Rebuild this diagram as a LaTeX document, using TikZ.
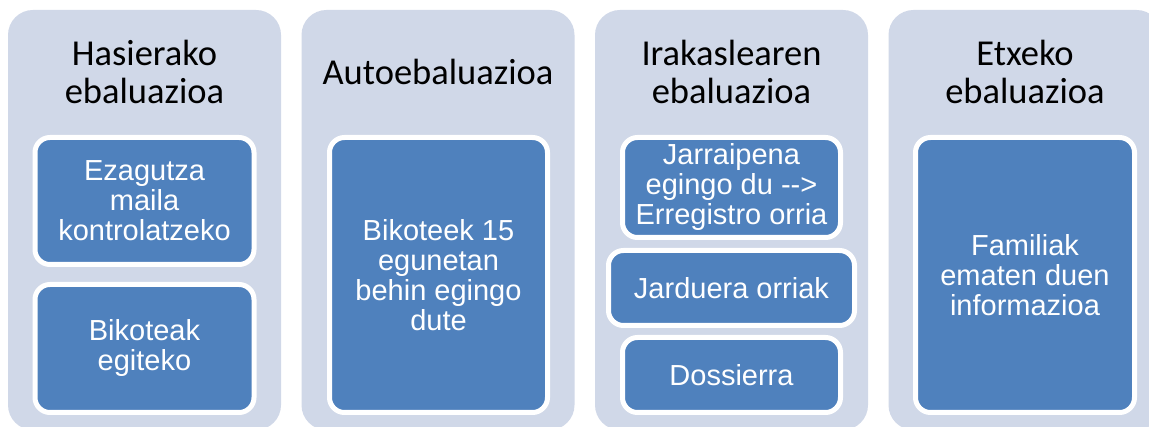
\documentclass[tikz,border=0pt]{standalone}
\usepackage{fontspec}
\setmainfont{Liberation Sans}
\newfontfamily\headfont{Carlito}
\definecolor{colGray}{HTML}{D0D8E8}
\definecolor{boxBlue}{HTML}{4F81BD}
\tikzset{
  column/.style={fill=colGray,rounded corners=25pt,minimum width=273pt,
                 minimum height=420pt,inner sep=0pt},
  heading/.style={align=center,text=black,
                  font=\headfont\fontsize{36.5}{38}\selectfont},
  item/.style={fill=boxBlue,draw=white,line width=5pt,rounded corners=15pt,
               align=center,text=white,inner sep=0pt,
               font=\fontsize{29}{30}\selectfont}
}
\begin{document}
\begin{tikzpicture}[x=1pt,y=-1pt]
    \clip (0,0) rectangle (1149,427);
    \fill[white] (0,0) rectangle (1149,427);
    % four light columns (the last one runs off the page)
    \foreach \i/\cx in {1/144.5,2/438,3/731.5,4/1025}
       \node[column] (col\i) at (\cx,220) {};
    % column headings
    \node[heading] (head1) at (144.5,72) {Hasierako\\ebaluazioa};
    \node[heading] (head2) at (438,72)   {Autoebaluazioa};
    \node[heading] (head3) at (731.5,72) {Irakaslearen\\ebaluazioa};
    \node[heading] (head4) at (1025,72)  {Etxeko\\ebaluazioa};
    % blue boxes
    \node[item,minimum width=219pt,minimum height=127pt] (hasi1) at (144.5,201)
       {Ezagutza\\maila\\kontrolatzeko};
    \node[item,minimum width=219pt,minimum height=128pt] (hasi2) at (144.5,348.5)
       {Bikoteak\\egiteko};
    \node[item,minimum width=218pt,minimum height=275pt] (auto1) at (438.5,275)
       {Bikoteek 15\\egunetan\\behin egingo\\dute};
    \node[item,minimum width=218pt,minimum height=100pt] (irak1) at (731.5,187.5)
       {Jarraipena\\egingo du -{}->\\Erregistro orria};
    \node[item,minimum width=246pt,minimum height=75pt] (irak2) at (731.5,288)
       {Jarduera orriak};
    \node[item,minimum width=218pt,minimum height=75pt] (irak3) at (731.5,375)
       {Dossierra};
    \node[item,minimum width=219pt,minimum height=275pt] (etxe1) at (1025,275)
       {Familiak\\ematen duen\\informazioa};
\end{tikzpicture}
\end{document}
